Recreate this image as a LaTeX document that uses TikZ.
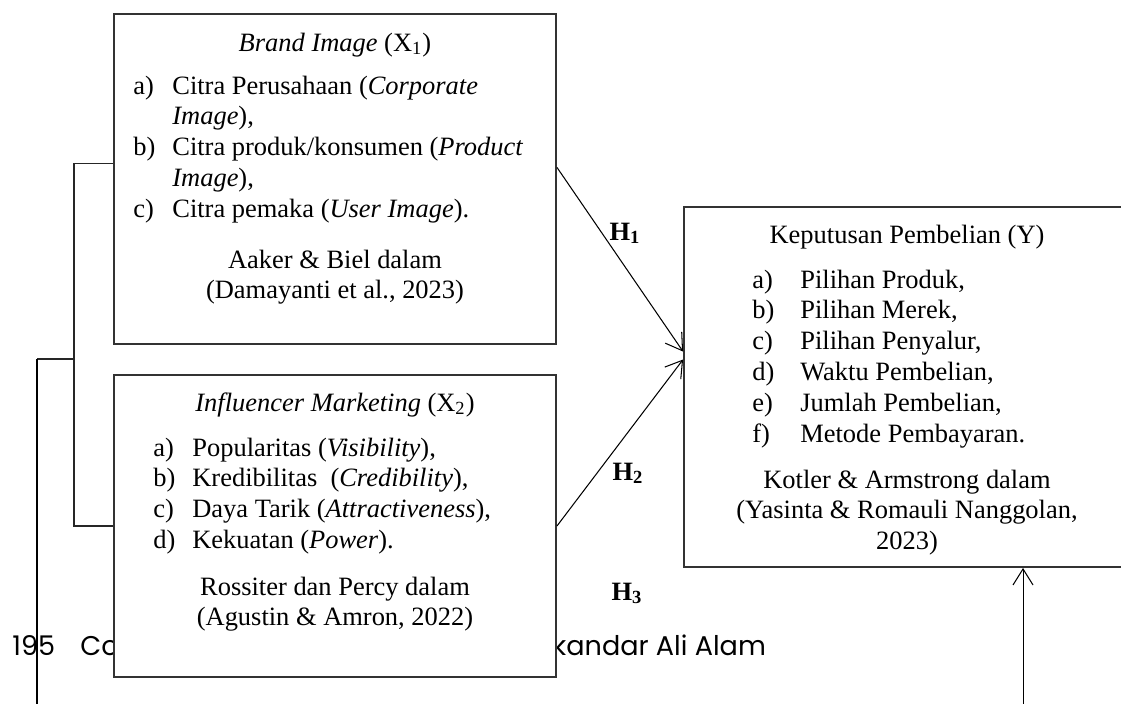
\documentclass[tikz,border=0pt]{standalone}
\usepackage{fontspec}
\setmainfont{Liberation Serif}
\newfontfamily\footfont{Poppins}
\usetikzlibrary{positioning,arrows.meta}

\tikzset{
  varbox/.style={draw=black!80,line width=0.9pt,fill=white,rectangle,inner sep=0pt},
  txt/.style={inner sep=0pt,font=\fontsize{12.7pt}{14.8pt}\selectfont},
  hyp/.style={-{Straight Barb[length=7.7pt,width=9.6pt]},line width=0.5pt},
  brline/.style={draw=black!85,line width=0.6pt},
  foot/.style={inner sep=0pt,anchor=base west,font=\footfont\fontsize{13pt}{16pt}\selectfont}
}

\begin{document}
\begin{tikzpicture}[x=0.48pt,y=-0.48pt]
\clip (0,0) rectangle (1121,703);

% page line behind the boxes
\node (pgno) [foot] at (12,655) {195};
\node (pgco) [foot] at (80,655) {Co};
\node (pgname) [foot] at (552,655) {kandar Ali Alam};

% variables
\node (bi) [varbox,minimum width=212.16pt,minimum height=158.4pt] at (335,179) {};
\node (im) [varbox,minimum width=212.16pt,minimum height=144.96pt] at (335,526) {};
\node (kp) [varbox,minimum width=214.08pt,minimum height=172.8pt] at (907,387) {};

\node (bititle) [txt,anchor=base] at (335,51) {\textit{Brand Image} (X\textsubscript{1})};
\node (bilist) [txt,anchor=base west] at (133,94) {%
\begin{tabular}[t]{@{}p{18.7pt}@{}l@{}}
a) & Citra Perusahaan (\textit{Corporate}\\
   & \textit{Image}),\\
b) & Citra produk/konsumen (\textit{Product}\\
   & \textit{Image}),\\
c) & Citra pemaka (\textit{User Image}).
\end{tabular}};
\node (bisrc) [txt,anchor=base] at (335,268) {%
\begin{tabular}[t]{@{}c@{}}
Aaker \& Biel dalam\\
(Damayanti et al., 2023)
\end{tabular}};

\node (imtitle) [txt,anchor=base] at (335,411) {\textit{Influencer Marketing} (X\textsubscript{2})};
\node (imlist) [txt,anchor=base west] at (153,456) {%
\begin{tabular}[t]{@{}p{18.7pt}@{}l@{}}
a) & Popularitas (\textit{Visibility}),\\
b) & Kredibilitas\ \ (\textit{Credibility}),\\
c) & Daya Tarik (\textit{Attractiveness}),\\
d) & Kekuatan (\textit{Power}).
\end{tabular}};
\node (imsrc) [txt,anchor=base] at (335,595) {%
\begin{tabular}[t]{@{}c@{}}
Rossiter dan Percy dalam\\
(Agustin \& Amron, 2022)
\end{tabular}};

\node (kptitle) [txt,anchor=base] at (907,243) {Keputusan Pembelian (Y)};
\node (kplist) [txt,anchor=base west] at (752,288) {%
\begin{tabular}[t]{@{}p{23pt}@{}l@{}}
a) & Pilihan Produk,\\
b) & Pilihan Merek,\\
c) & Pilihan Penyalur,\\
d) & Waktu Pembelian,\\
e) & Jumlah Pembelian,\\
f) & Metode Pembayaran.
\end{tabular}};
\node (kpsrc) [txt,anchor=base] at (907,488) {%
\begin{tabular}[t]{@{}c@{}}
Kotler \& Armstrong dalam\\
(Yasinta \& Romauli Nanggolan,\\
2023)
\end{tabular}};

% hypotheses
\node (h1) [txt,anchor=base,font=\fontsize{12.7pt}{14.8pt}\selectfont\bfseries] at (625,240) {H\textsubscript{1}};
\node (h2) [txt,anchor=base,font=\fontsize{12.7pt}{14.8pt}\selectfont\bfseries] at (628,480) {H\textsubscript{2}};
\node (h3) [txt,anchor=base,font=\fontsize{12.7pt}{14.8pt}\selectfont\bfseries] at (627,600) {H\textsubscript{3}};

% joint path X1 + X2
\coordinate (jm) at (75,359);
\coordinate (jl) at (37,359);
\coordinate (h3x) at (1023,0);
\draw[brline] (bi.176.6) -- ++(-39,0) |- (im.west);
\draw[brline] (jm) -- (jl);
\draw[hyp] (jl) -- ++(0,400) -| (kp.south -| h3x);

\draw[hyp] (bi.3.1) -- (kp.171.6);
\draw[hyp] (im.east) -- (kp.173.6);
\end{tikzpicture}
\end{document}
